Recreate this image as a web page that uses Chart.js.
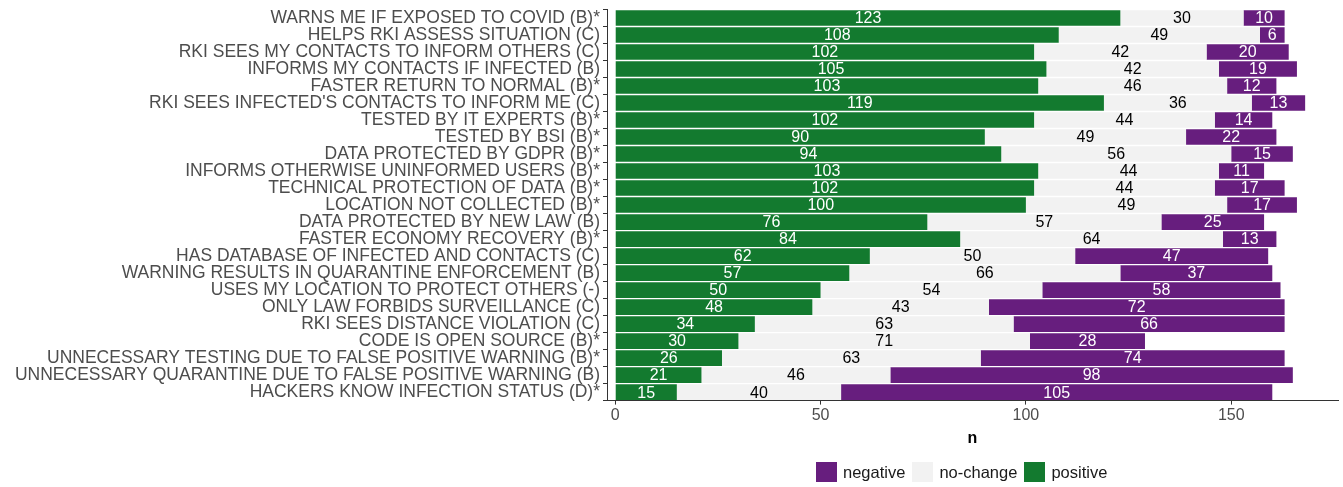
<!DOCTYPE html>
<html>
<head>
<meta charset="utf-8">
<script src="https://cdn.jsdelivr.net/npm/chart.js@4.4.1/dist/chart.umd.min.js"></script>
<style>
  html, body { margin: 0; padding: 0; background: #fff; }
  #wrap { position: relative; width: 1343px; height: 487px; overflow: hidden; }
  #chart { position: absolute; left: 0; top: -4px; }
  #legend {
    position: absolute; top: 462px; left: 816px;
    display: flex; align-items: center;
    font: 16.5px "Liberation Sans", Arial, sans-serif; color: #1a1a1a;
  }
  #legend .item { display: flex; align-items: center; margin-right: 7px; }
  #legend .sw { width: 21px; height: 20px; margin-right: 6px; }
</style>
</head>
<body>
<div id="wrap">
  <canvas id="chart" width="1343" height="491"></canvas>
  <div id="legend"></div>
</div>
<script>
// categories, top to bottom
const items = [
  "WARNS ME IF EXPOSED TO COVID (B)*",
  "HELPS RKI ASSESS SITUATION (C)",
  "RKI SEES MY CONTACTS TO INFORM OTHERS (C)",
  "INFORMS MY CONTACTS IF INFECTED (B)",
  "FASTER RETURN TO NORMAL (B)*",
  "RKI SEES INFECTED'S CONTACTS TO INFORM ME (C)",
  "TESTED BY IT EXPERTS (B)*",
  "TESTED BY BSI (B)*",
  "DATA PROTECTED BY GDPR (B)*",
  "INFORMS OTHERWISE UNINFORMED USERS (B)*",
  "TECHNICAL PROTECTION OF DATA (B)*",
  "LOCATION NOT COLLECTED (B)*",
  "DATA PROTECTED BY NEW LAW (B)",
  "FASTER ECONOMY RECOVERY (B)*",
  "HAS DATABASE OF INFECTED AND CONTACTS (C)",
  "WARNING RESULTS IN QUARANTINE ENFORCEMENT (B)",
  "USES MY LOCATION TO PROTECT OTHERS (-)",
  "ONLY LAW FORBIDS SURVEILLANCE (C)",
  "RKI SEES DISTANCE VIOLATION (C)",
  "CODE IS OPEN SOURCE (B)*",
  "UNNECESSARY TESTING DUE TO FALSE POSITIVE WARNING (B)*",
  "UNNECESSARY QUARANTINE DUE TO FALSE POSITIVE WARNING (B)",
  "HACKERS KNOW INFECTION STATUS (D)*"
];

const positive = [123, 108, 102, 105, 103, 119, 102, 90, 94, 103, 102, 100, 76, 84, 62, 57, 50, 48, 34, 30, 26, 21, 15];
const noChange = [30, 49, 42, 42, 46, 36, 44, 49, 56, 44, 44, 49, 57, 64, 50, 66, 54, 43, 63, 71, 63, 46, 40];
const negative = [10, 6, 20, 19, 12, 13, 14, 22, 15, 11, 17, 17, 25, 13, 47, 37, 58, 72, 66, 28, 74, 98, 105];

const xTicks = [0, 50, 100, 150];

const GREEN = "#137a2f";
const GRAY = "#f2f2f2";
const PURPLE = "#671e7e";

// 🏷 value labels in the middle of each segment
const barLabels = {
  id: "barLabels",
  afterDatasetsDraw(chart) {
    const { ctx } = chart;
    ctx.save();
    ctx.font = '16px "Liberation Sans", Arial, sans-serif';
    ctx.textAlign = "center";
    ctx.textBaseline = "middle";
    chart.data.datasets.forEach((ds, di) => {
      const meta = chart.getDatasetMeta(di);
      meta.data.forEach((bar, i) => {
        ctx.fillStyle = ds.labelColor;
        ctx.fillText(ds.data[i], (bar.x + bar.base) / 2, bar.y + 1);
      });
    });
    ctx.restore();
  }
};

const ctx = document.getElementById("chart").getContext("2d");

const chart = new Chart(ctx, {
  type: "bar",
  data: {
    labels: items,
    datasets: [
      { label: "positive", data: positive, backgroundColor: GREEN, labelColor: "#ffffff" },
      { label: "no-change", data: noChange, backgroundColor: GRAY, labelColor: "#000000" },
      { label: "negative", data: negative, backgroundColor: PURPLE, labelColor: "#ffffff" }
    ]
  },
  options: {
    indexAxis: "y",
    responsive: false,
    animation: false,
    datasets: {
      bar: { categoryPercentage: 1, barPercentage: 0.92, borderWidth: 0 }
    },
    layout: { padding: { top: 4, right: 5, bottom: 39, left: 0 } },
    plugins: {
      legend: { display: false },
      tooltip: { enabled: false }
    },
    scales: {
      x: {
        stacked: true,
        min: -2,
        max: 176,
        afterBuildTicks: (scale) => {
          scale.ticks = xTicks.map(v => ({ value: v }));
        },
        grid: { drawOnChartArea: false, drawTicks: true, tickLength: 4, color: "#333333" },
        border: { display: true, color: "#333333", width: 1 },
        ticks: {
          color: "#4d4d4d",
          padding: 1,
          font: { family: '"Liberation Sans", Arial, sans-serif', size: 16 }
        },
        title: {
          display: true,
          text: "n",
          color: "#000000",
          padding: { top: 3, bottom: 0 },
          font: { family: '"Liberation Sans", Arial, sans-serif', size: 16, weight: "bold" }
        }
      },
      y: {
        stacked: true,
        afterFit: (scale) => { scale.width = 607; },
        grid: { drawOnChartArea: false, drawTicks: true, tickLength: 4, color: "#333333" },
        border: { display: true, color: "#333333", width: 1 },
        ticks: {
          color: "#4d4d4d",
          padding: 3,
          autoSkip: false,
          font: { family: '"Liberation Sans", Arial, sans-serif', size: 17.5 }
        }
      }
    }
  },
  plugins: [barLabels]
});

// 📋 legend, same order as the reference
const legend = document.getElementById("legend");
[...chart.data.datasets].reverse().forEach(ds => {
  const item = document.createElement("div");
  item.className = "item";
  item.innerHTML = `<span class="sw" style="background:${ds.backgroundColor}"></span><span>${ds.label}</span>`;
  legend.appendChild(item);
});
</script>
</body>
</html>
